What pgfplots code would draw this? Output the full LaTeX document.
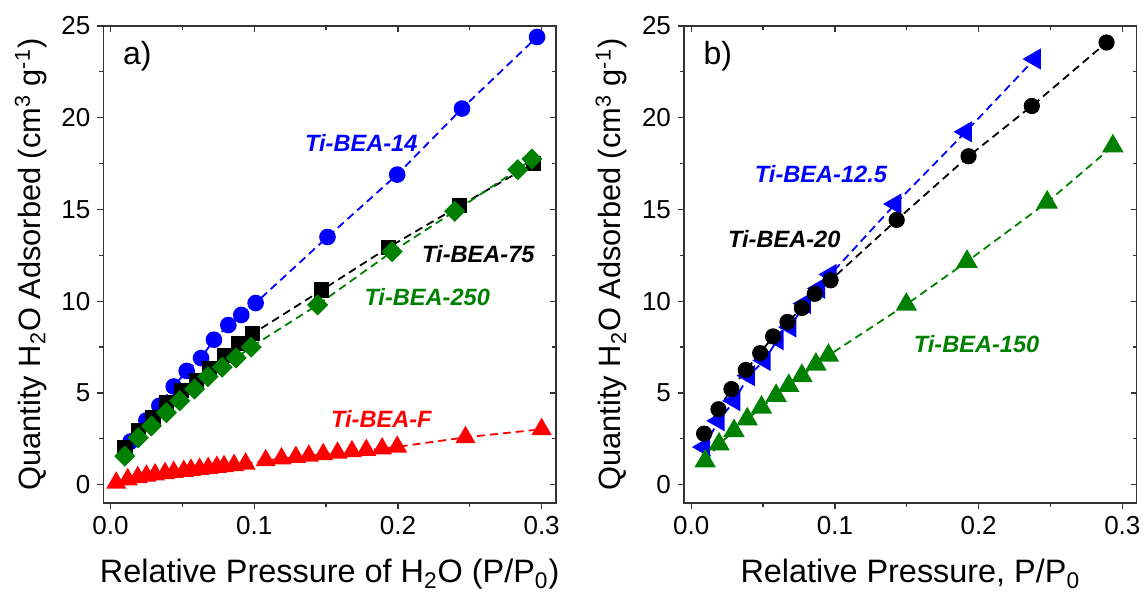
\documentclass[border=0pt]{standalone}
\usepackage{pgfplots}
\pgfplotsset{compat=1.18}
\usepackage{fontspec}
\setmainfont{Liberation Sans}
\definecolor{ogreen}{RGB}{0,128,0}

% Ti-BEA water isotherms, panel a)
\pgfplotstableread{
x y
0.014 2.35
0.025 3.50
0.034 4.30
0.044 5.35
0.053 6.20
0.063 6.90
0.072 7.90
0.082 8.70
0.091 9.25
0.101 9.90
0.151 13.50
0.1995 16.90
0.2446 20.50
0.2968 24.40
}\tbeaXIV
\pgfplotstableread{
x y
0.010 2.02
0.0193 2.93
0.0296 3.66
0.0389 4.48
0.0494 5.12
0.0597 5.67
0.069 6.31
0.0792 7.04
0.0895 7.68
0.099 8.23
0.147 10.60
0.1933 12.93
0.243 15.20
0.2943 17.50
}\tbeaLXXV
\pgfplotstableread{
x y
0.010 1.56
0.0193 2.56
0.0285 3.20
0.0389 3.93
0.0482 4.57
0.0585 5.21
0.0678 5.89
0.0777 6.40
0.0874 6.91
0.0979 7.50
0.1441 9.80
0.196 12.70
0.2395 14.90
0.2834 17.17
0.2932 17.75
}\tbeaCCL
\pgfplotstableread{
x y
0.004 0.10
0.012 0.28
0.019 0.40
0.025 0.48
0.031 0.55
0.038 0.62
0.044 0.68
0.051 0.74
0.056 0.80
0.062 0.85
0.068 0.90
0.074 0.96
0.079 1.00
0.086 1.06
0.094 1.14
0.108 1.32
0.119 1.42
0.129 1.50
0.138 1.57
0.148 1.65
0.158 1.73
0.168 1.81
0.178 1.88
0.189 1.96
0.1995 2.06
0.247 2.58
0.300 3.02
}\tbeaF

% panel b)
\pgfplotstableread{
x y
0.009 2.78
0.019 4.11
0.028 5.21
0.038 6.25
0.048 7.17
0.057 8.08
0.067 8.87
0.077 9.63
0.086 10.40
0.097 11.14
0.143 14.43
0.193 17.90
0.237 20.64
0.289 24.10
}\tbeaXX
\pgfplotstableread{
x y
0.009 2.05
0.019 3.48
0.030 4.57
0.040 5.94
0.051 6.77
0.060 7.90
0.069 8.59
0.079 9.87
0.089 10.70
0.097 11.46
0.142 15.30
0.191 19.23
0.239 23.20
}\tbeaXIIhalf
\pgfplotstableread{
x y
0.0097 1.28
0.0194 2.20
0.0298 2.93
0.039 3.57
0.0489 4.21
0.0591 4.85
0.0679 5.39
0.077 5.94
0.0868 6.55
0.0955 7.04
0.1497 9.82
0.1919 12.16
0.2477 15.39
0.2934 18.45
}\tbeaCL

\tikzset{
  iso/.style={dashed, dash pattern=on 4pt off 2.5pt, line width=0.9pt},
  tag/.style={font=\fontsize{11.8}{14}\selectfont\bfseries\itshape},
}
\pgfplotsset{
  panel/.style={
    width=226.35pt, height=238.5pt, scale only axis,
    xmin=-0.005, xmax=0.31, ymin=-1, ymax=25,
    xtick={0,0.1,0.2,0.3}, minor xtick={0.05,0.15,0.25},
    ytick={0,5,10,15,20,25}, minor ytick={2.5,7.5,12.5,17.5,22.5},
    axis line style={line width=0.6pt, black!80},
    major tick length=3pt, minor tick length=2pt,
    every tick/.style={black!80, line width=0.6pt},
  },
  front/.style={
    panel, xtick pos=bottom, ytick pos=left, tick align=outside,
    /pgf/number format/assume math mode=true,
    xticklabel style={/pgf/number format/.cd, fixed, fixed zerofill, precision=1},
    ticklabel style={font=\fontsize{13}{15}\selectfont},
    xlabel style={font=\fontsize{16.2}{19}\selectfont,
      at={(axis description cs:0.5,-0.1677)}, anchor=base},
    ylabel style={font=\fontsize{15.4}{18}\selectfont,
      at={(axis description cs:-0.1392,0.5)}, anchor=base},
    ylabel={Quantity H\textsubscript{2}O Adsorbed (cm\textsuperscript{3} g\textsuperscript{-1})},
  },
  back/.style={
    panel, xtick pos=top, ytick pos=right, tick align=inside,
    xticklabels={}, yticklabels={},
  },
}

\begin{document}
\begin{tikzpicture}
\path[use as bounding box] (-51.65pt,-44.5pt) rectangle (519.85pt,251.5pt);

% ---- a) ----
\begin{axis}[back, at={(0,0)}]
\end{axis}
\begin{axis}[front, at={(0,0)},
  xlabel={Relative Pressure of H\textsubscript{2}O (P/P\textsubscript{0})}]
\addplot[iso, blue, mark=*, mark size=3.7pt, mark options={solid}] table {\tbeaXIV};
\addplot[iso, black, mark=square*, mark size=3.4pt, mark options={solid}] table {\tbeaLXXV};
\addplot[iso, ogreen, mark=square*, mark size=3.3pt, mark options={solid, rotate=45}] table {\tbeaCCL};
\addplot[iso, red, mark=triangle*, mark size=4.9pt, mark options={solid}] table {\tbeaF};
\node[font=\fontsize{16}{18}\selectfont] at (axis cs:0.0187,23.35) {a)};
\node[tag, text=blue] at (axis cs:0.1745,18.6) {Ti-BEA-14};
\node[tag, text=black] at (axis cs:0.256,12.57) {Ti-BEA-75};
\node[tag, text=ogreen] at (axis cs:0.2204,10.2) {Ti-BEA-250};
\node[tag, text=red] at (axis cs:0.1885,3.57) {Ti-BEA-F};
\end{axis}

% ---- b) ----
\begin{axis}[back, at={(290.35pt,0)}]
\end{axis}
\begin{axis}[front, at={(290.35pt,0)},
  xlabel={Relative Pressure, P/P\textsubscript{0}}]
\addplot[iso, blue, mark=triangle*, mark size=5.2pt, mark options={solid, rotate=90}] table {\tbeaXIIhalf};
\addplot[iso, black, mark=*, mark size=3.6pt, mark options={solid}] table {\tbeaXX};
\addplot[iso, ogreen, mark=triangle*, mark size=5.3pt, mark options={solid}] table {\tbeaCL};
\node[font=\fontsize{16}{18}\selectfont] at (axis cs:0.0186,23.35) {b)};
\node[tag, text=blue] at (axis cs:0.0903,16.95) {Ti-BEA-12.5};
\node[tag, text=black] at (axis cs:0.0648,13.39) {Ti-BEA-20};
\node[tag, text=ogreen] at (axis cs:0.1986,7.68) {Ti-BEA-150};
\end{axis}
\end{tikzpicture}
\end{document}
